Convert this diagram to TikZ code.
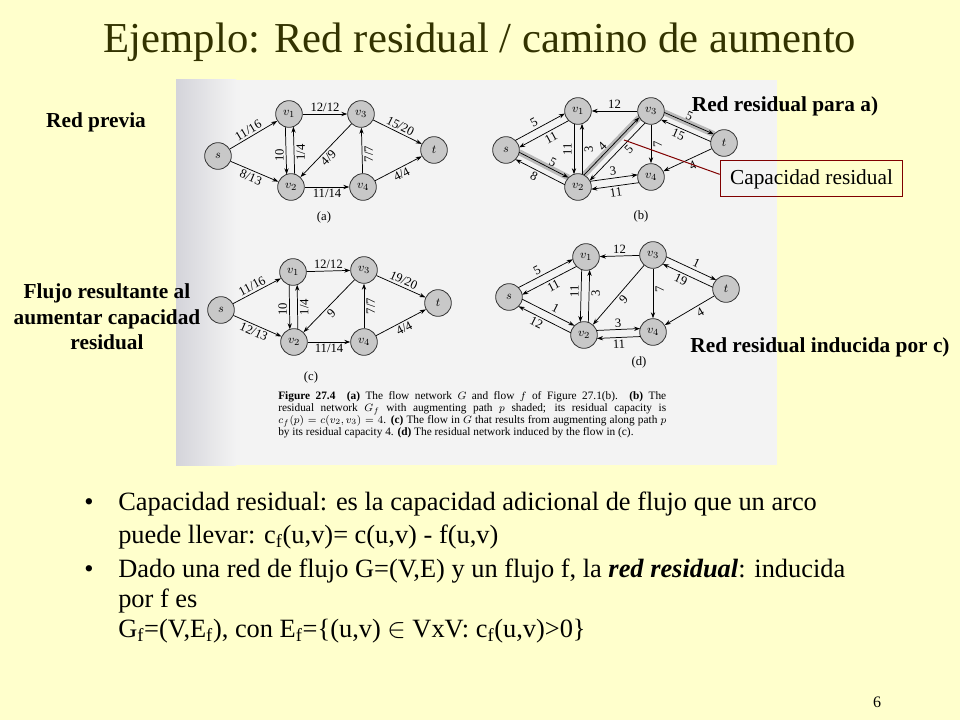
\documentclass[tikz,border=0pt]{standalone}
\usepackage{fontspec}
\setmainfont{Liberation Serif}
\usetikzlibrary{calc,arrows.meta}
\definecolor{bgy}{HTML}{FFFFCC}
\definecolor{ttl}{HTML}{333300}
\definecolor{boxred}{HTML}{800000}
\definecolor{nodefill}{HTML}{C8C8C8}
\definecolor{figbg}{HTML}{F3F3F3}
\definecolor{figedge}{HTML}{D4D4DA}
\pgfdeclarelayer{bg}
\pgfsetlayers{bg,main}
\tikzset{
 vtx/.style={circle,draw=black!80,fill=nodefill,line width=0.6pt,minimum size=20pt,inner sep=0pt,font=\fontsize{9.5}{9.5}\selectfont},
 ed/.style={line width=0.55pt,-{Stealth[length=4.5pt,width=3.2pt]}},
 lab/.style={font=\fontsize{9.5}{10}\selectfont,inner sep=1.6pt},
 band/.style={line width=4.5pt,draw=gray!55},
 lbl/.style={font=\bfseries\fontsize{16}{19.1}\selectfont,align=center},
 bul/.style={font=\fontsize{19.8}{24}\selectfont,anchor=base west,inner sep=0pt},
}
\newcommand\pe[6]{%
  \path ($(#1)!9.6pt!(#2)$) coordinate (pa) ($(#2)!9.6pt!(#1)$) coordinate (pb);
  \draw[ed,#6] ($(pa)!#3!90:(#2)$) -- node[lab,#5]{#4} ($(pb)!#3!-90:(#1)$);
}
\newcommand\pband[3]{%
  \path ($(#1)!9.6pt!(#2)$) coordinate (pa) ($(#2)!9.6pt!(#1)$) coordinate (pb);
  \begin{pgfonlayer}{bg}
  \draw[band] ($(pa)!#3!90:(#2)$) -- ($(pb)!#3!-90:(#1)$);
  \end{pgfonlayer}
}
\begin{document}
\begin{tikzpicture}[x=0.75pt,y=-0.75pt]
\begin{pgfonlayer}{bg}
\fill[bgy] (0,0) rectangle (960,720);
\fill[figbg] (176,80) rectangle (777,465);
\shade[left color=figedge,right color=figbg] (176,80) rectangle (236,465);
\end{pgfonlayer}
\useasboundingbox (0,0) rectangle (960,720);

% title
\node[font=\fontsize{32}{36}\selectfont,text=ttl] (title) at (480,42) {Ejemplo: Red residual / camino de aumento};

% ---------- graph (a)
\node[vtx] (as) at (218,156) {$s$};
\node[vtx] (a1) at (289,114) {$v_1$};
\node[vtx] (a3) at (361,114) {$v_3$};
\node[vtx] (at) at (434,150) {$t$};
\node[vtx] (a2) at (291,187) {$v_2$};
\node[vtx] (a4) at (363,187) {$v_4$};
\draw[ed] (as) -- node[lab,sloped,above,pos=0.46]{11/16} (a1);
\draw[ed] (as) -- node[lab,sloped,below,pos=0.48]{8/13} (a2);
\pe{a1}{a2}{-3pt}{10}{rotate=90,anchor=south,pos=0.6}{}
\pe{a2}{a1}{-3pt}{1/4}{rotate=90,anchor=north,pos=0.45}{}
\draw[ed] (a1) -- node[lab,sloped,above]{12/12} (a3);
\draw[ed] (a3) -- node[lab,sloped,below,pos=0.55]{4/9} (a2);
\draw[ed] (a2) -- node[lab,sloped,below]{11/14} (a4);
\draw[ed] (a4) -- node[lab,rotate=90,anchor=north,pos=0.42]{7/7} (a3);
\draw[ed] (a3) -- node[lab,sloped,above]{15/20} (at);
\draw[ed] (a4) -- node[lab,sloped,below]{4/4} (at);
\node[lab] (capa) at (324,217) {(a)};

% ---------- graph (b)
\node[vtx] (bs) at (506,150) {$s$};
\node[vtx] (b1) at (578,111) {$v_1$};
\node[vtx] (b3) at (651,111) {$v_3$};
\node[vtx] (bt) at (724,143) {$t$};
\node[vtx] (b2) at (578,187) {$v_2$};
\node[vtx] (b4) at (651,177) {$v_4$};
\pband{bs}{b2}{3pt}
\pband{b2}{b3}{3pt}
\pband{b3}{bt}{3pt}
\pe{bs}{b1}{3pt}{5}{sloped,above,pos=0.44}{}
\pe{b1}{bs}{3pt}{11}{sloped,below,pos=0.42}{}
\pe{bs}{b2}{3pt}{5}{sloped,above,pos=0.62}{}
\pe{b2}{bs}{3pt}{8}{sloped,below,pos=0.56}{}
\pe{b1}{b2}{-3pt}{11}{rotate=90,anchor=south}{}
\pe{b2}{b1}{-3pt}{3}{rotate=90,anchor=north}{}
\draw[ed] (b3) -- node[lab,above]{12} (b1);
\pe{b2}{b3}{3pt}{4}{sloped,above,pos=0.42}{}
\pe{b3}{b2}{3pt}{5}{sloped,below,pos=0.38}{}
\pe{b2}{b4}{3pt}{3}{sloped,above}{}
\pe{b4}{b2}{3pt}{11}{sloped,below}{}
\draw[ed] (b3) -- node[lab,rotate=90,anchor=north]{7} (b4);
\pe{b3}{bt}{3pt}{5}{sloped,above,pos=0.45}{}
\pe{bt}{b3}{3pt}{15}{sloped,below,pos=0.6}{}
\draw[ed] (bt) -- node[lab,sloped,below,pos=0.45]{4} (b4);
\node[lab] (capb) at (641,216) {(b)};

% ---------- graph (c)
\node[vtx] (cs) at (221,310) {$s$};
\node[vtx] (c1) at (293,272) {$v_1$};
\node[vtx] (c3) at (364,270) {$v_3$};
\node[vtx] (ct) at (438,303) {$t$};
\node[vtx] (c2) at (294,342) {$v_2$};
\node[vtx] (c4) at (364,342) {$v_4$};
\draw[ed] (cs) -- node[lab,sloped,above,pos=0.46]{11/16} (c1);
\draw[ed] (cs) -- node[lab,sloped,below,pos=0.48]{12/13} (c2);
\pe{c1}{c2}{-3pt}{10}{rotate=90,anchor=south,pos=0.55}{}
\pe{c2}{c1}{-3pt}{1/4}{rotate=90,anchor=north}{}
\draw[ed] (c1) -- node[lab,sloped,above]{12/12} (c3);
\draw[ed] (c3) -- node[lab,sloped,below,pos=0.55]{9} (c2);
\draw[ed] (c2) -- node[lab,sloped,below]{11/14} (c4);
\draw[ed] (c4) -- node[lab,rotate=90,anchor=north]{7/7} (c3);
\draw[ed] (c3) -- node[lab,sloped,above]{19/20} (ct);
\draw[ed] (c4) -- node[lab,sloped,below]{4/4} (ct);
\node[lab] (capc) at (311,377) {(c)};

% ---------- graph (d)
\node[vtx] (ds) at (509,297) {$s$};
\node[vtx] (d1) at (586,257) {$v_1$};
\node[vtx] (d3) at (653,255) {$v_3$};
\node[vtx] (dt) at (726,289) {$t$};
\node[vtx] (d2) at (584,335) {$v_2$};
\node[vtx] (d4) at (653,332) {$v_4$};
\pe{ds}{d1}{3pt}{5}{sloped,above,pos=0.4}{}
\pe{d1}{ds}{3pt}{11}{sloped,below,pos=0.48}{}
\pe{ds}{d2}{3pt}{1}{sloped,above,pos=0.58}{}
\pe{d2}{ds}{3pt}{12}{sloped,below,pos=0.6}{}
\pe{d1}{d2}{-3pt}{11}{rotate=90,anchor=south,pos=0.42}{}
\pe{d2}{d1}{-3pt}{3}{rotate=90,anchor=north,pos=0.55}{}
\draw[ed] (d3) -- node[lab,above]{12} (d1);
\draw[ed] (d3) -- node[lab,sloped,below]{9} (d2);
\pe{d2}{d4}{3pt}{3}{sloped,above}{}
\pe{d4}{d2}{3pt}{11}{sloped,below}{}
\draw[ed] (d3) -- node[lab,rotate=90,anchor=north,pos=0.42]{7} (d4);
\pe{d3}{dt}{3pt}{1}{sloped,above,pos=0.55}{}
\pe{dt}{d3}{3pt}{19}{sloped,below,pos=0.58}{}
\draw[ed] (dt) -- node[lab,sloped,below,pos=0.35]{4} (d4);
\node[lab] (capd) at (639,362) {(d)};

% ---------- book caption
\node[anchor=north west,text width=291pt,align=justify,inner sep=0pt,
      font=\fontsize{8.5}{9}\selectfont] (figcap) at (278,391)
 {\textbf{Figure 27.4}\quad \textbf{(a)} The flow network $G$ and flow $f$ of Figure 27.1(b).\quad \textbf{(b)} The\linebreak residual network $G_f$ with augmenting path $p$ shaded; its residual capacity is\linebreak $c_f(p)=c(v_2,v_3)=4$. \textbf{(c)} The flow in $G$ that results from augmenting along path $p$\linebreak by its residual capacity 4. \textbf{(d)} The residual network induced by the flow in (c).};

% ---------- slide labels
\node[lbl] (lprev) at (96,122) {Red previa};
\node[lbl] (lflujo) at (107,317) {Flujo resultante al\\aumentar capacidad\\residual};
\node[lbl] (lpara) at (785,106) {Red residual para a)};
\node[lbl] (lind) at (820,347) {Red residual inducida por c)};
\node[draw=boxred,line width=0.75pt,font=\fontsize{16}{19}\selectfont,
      minimum width=137pt,minimum height=27pt,inner sep=0pt] (capbox) at (811.5,179) {Capacidad residual};
\coordinate (lineend) at (624,140);
\draw[boxred,line width=0.75pt] (lineend) -- ([yshift=3.5pt]capbox.west);

% ---------- bullets
\node[bul] (bu1) at (84,510) {\textbullet};
\node[bul] (t1) at (118,510) {Capacidad residual: es la capacidad adicional de flujo que un arco};
\node[bul] (t2) at (118,543) {puede llevar: c\textsubscript{f}(u,v)= c(u,v) - f(u,v)};
\node[bul] (bu2) at (84,577) {\textbullet};
\node[bul] (t3) at (118,577) {Dado una red de flujo G=(V,E) y un flujo f, la \textbf{\textit{red residual}}: inducida};
\node[bul] (t4) at (118,607) {por f es};
\node[bul] (t5) at (118,637) {G\textsubscript{f}=(V,E\textsubscript{f}), con E\textsubscript{f}=\{(u,v) $\in$ VxV: c\textsubscript{f}(u,v)>0\}};

\node[font=\fontsize{12}{14}\selectfont] (pnum) at (877,702) {6};
\end{tikzpicture}
\end{document}
